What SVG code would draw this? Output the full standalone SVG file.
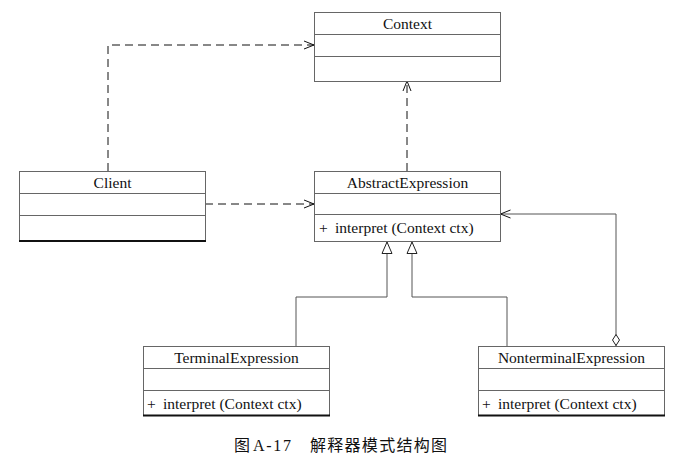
<svg xmlns="http://www.w3.org/2000/svg" width="682" height="467" viewBox="0 0 682 467">
<style>
.box{fill:#fff;stroke:#666;stroke-width:1}
.div{stroke:#666;stroke-width:1}
.bot{stroke:#111;stroke-width:2}
.name{font-family:"Liberation Serif","Times New Roman",serif;font-size:15.5px;fill:#111;text-anchor:middle}
.op{font-family:"Liberation Serif","Times New Roman",serif;font-size:15.5px;fill:#111}
.dash{fill:none;stroke:#111;stroke-width:1;stroke-dasharray:8 5}
.solid{fill:none;stroke:#555;stroke-width:1}
.cap{font-family:"Liberation Serif","Noto Sans CJK SC",serif;font-size:16px;fill:#111}
</style>
<defs>
<marker id="open" viewBox="0 0 10 10" refX="10" refY="5" markerWidth="10" markerHeight="10" markerUnits="userSpaceOnUse" orient="auto">
<path d="M0,1 L10,5 L0,9" fill="none" stroke="#111" stroke-width="1"/>
</marker>
<marker id="tri" viewBox="0 0 12 12" refX="12" refY="6" markerWidth="12" markerHeight="12" markerUnits="userSpaceOnUse" orient="auto">
<path d="M0.5,1 L12,6 L0.5,11 Z" fill="#fff" stroke="#222" stroke-width="1"/>
</marker>
<marker id="dia" viewBox="0 0 12 8" refX="0" refY="4" markerWidth="12" markerHeight="8" markerUnits="userSpaceOnUse" orient="auto">
<path d="M0.5,4 L6,0.5 L11.5,4 L6,7.5 Z" fill="#fff" stroke="#222" stroke-width="1"/>
</marker>
</defs>

<g id="connectors">
<path class="dash" d="M108,171 V45 H314" marker-end="url(#open)"/>
<path class="dash" d="M205,204 H314" marker-end="url(#open)"/>
<path class="dash" d="M407,171 V81" marker-end="url(#open)"/>
<path class="solid" d="M296,346 V297 H387 V242" marker-end="url(#tri)"/>
<path class="solid" d="M507,346 V297 H412 V242" marker-end="url(#tri)"/>
<path class="solid" d="M616,346 V214 H500.5" marker-start="url(#dia)" marker-end="url(#open)"/>
</g>

<g id="context">
<rect class="box" x="314.5" y="12.5" width="186" height="69"/>
<line class="div" x1="314.5" y1="34.5" x2="500.5" y2="34.5"/>
<line class="div" x1="314.5" y1="56.5" x2="500.5" y2="56.5"/>
<text class="name" x="407.5" y="29">Context</text>
</g>

<g id="client">
<rect class="box" x="19.5" y="171.5" width="186" height="69"/>
<line class="div" x1="19.5" y1="193.5" x2="205.5" y2="193.5"/>
<line class="div" x1="19.5" y1="215.5" x2="205.5" y2="215.5"/>
<line class="bot" x1="19" y1="241" x2="206" y2="241"/>
<text class="name" x="112.5" y="188">Client</text>
</g>

<g id="abstractExpression">
<rect class="box" x="314.5" y="171.5" width="186" height="70"/>
<line class="div" x1="314.5" y1="193.5" x2="500.5" y2="193.5"/>
<line class="div" x1="314.5" y1="214.5" x2="500.5" y2="214.5"/>
<text class="name" x="407.5" y="188">AbstractExpression</text>
<text class="op" x="319" y="233">+</text>
<text class="op" x="335" y="233">interpret (Context ctx)</text>
</g>

<g id="terminalExpression">
<rect class="box" x="143.5" y="346.5" width="186" height="69"/>
<line class="div" x1="143.5" y1="368.5" x2="329.5" y2="368.5"/>
<line class="div" x1="143.5" y1="390.5" x2="329.5" y2="390.5"/>
<line class="bot" x1="143" y1="415.5" x2="330" y2="415.5"/>
<text class="name" x="236.5" y="363">TerminalExpression</text>
<text class="op" x="147" y="409">+</text>
<text class="op" x="163" y="409">interpret (Context ctx)</text>
</g>

<g id="nonterminalExpression">
<rect class="box" x="478.5" y="346.5" width="186" height="69"/>
<line class="div" x1="478.5" y1="368.5" x2="664.5" y2="368.5"/>
<line class="div" x1="478.5" y1="390.5" x2="664.5" y2="390.5"/>
<line class="bot" x1="478" y1="415.5" x2="665" y2="415.5"/>
<text class="name" x="571.5" y="363">NonterminalExpression</text>
<text class="op" x="482" y="409">+</text>
<text class="op" x="498" y="409">interpret (Context ctx)</text>
</g>

<g id="caption">
<text class="cap" x="234" y="451">图</text>
<text class="cap" x="253" y="451" textLength="38" lengthAdjust="spacing">A-17</text>
<text class="cap" x="310" y="451" textLength="137" lengthAdjust="spacing">解释器模式结构图</text>
</g>
</svg>
